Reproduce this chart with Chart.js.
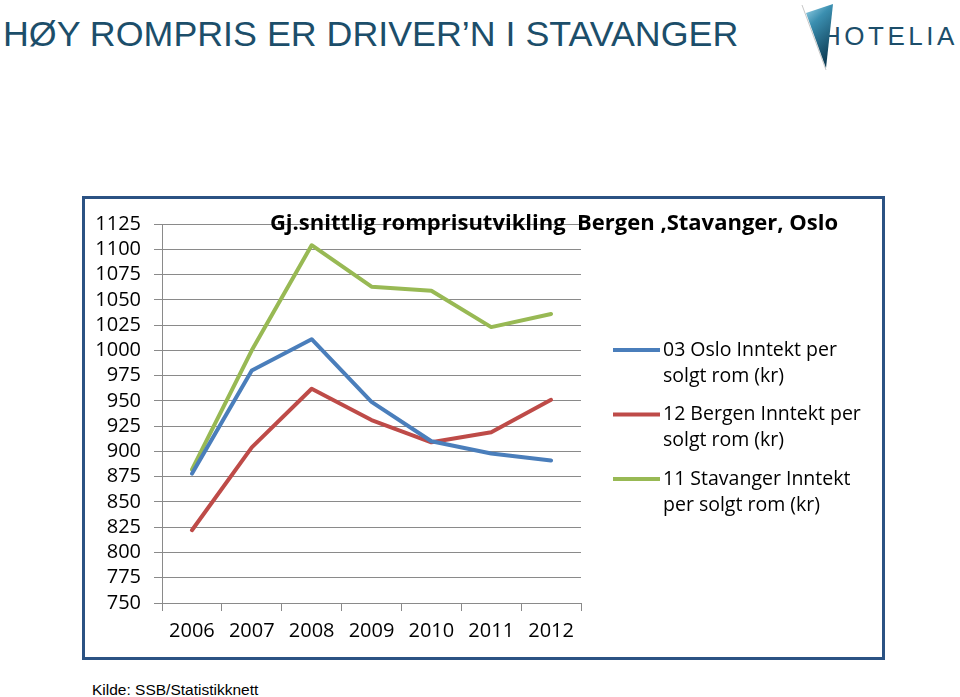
<!DOCTYPE html>
<html>
<head>
<meta charset="utf-8">
<script src="https://cdn.jsdelivr.net/npm/chart.js@4"></script>
<style>
  body { margin: 0; width: 960px; height: 697px; background: #fff; overflow: hidden; position: relative; font-family: "Liberation Sans", Arial, sans-serif; }
  #heading { position: absolute; left: 3px; top: 16px; font-size: 35.8px; line-height: 36px; color: #1c4e6a; white-space: nowrap; }
  #logo { position: absolute; left: 795px; top: 0; }
  #box { position: absolute; left: 82px; top: 196px; width: 803px; height: 464px; border: 3px solid #2b5283; box-sizing: border-box; }
  #box canvas { display: block; }
  #source { position: absolute; left: 92px; top: 682px; font-size: 15.5px; line-height: 15px; color: #000; white-space: nowrap; }
</style>
</head>
<body>
<div id="heading">HØY ROMPRIS ER DRIVER’N I STAVANGER</div>
<svg id="logo" width="165" height="75" viewBox="795 0 165 75">
  <defs>
    <linearGradient id="tri" x1="0" y1="0" x2="0.4" y2="1">
      <stop offset="0" stop-color="#9fd6ea"/>
      <stop offset="0.35" stop-color="#3b8fb0"/>
      <stop offset="1" stop-color="#0f3f58"/>
    </linearGradient>
  </defs>
  <text x="822" y="45" font-family="Liberation Sans, Arial" font-size="26" letter-spacing="3.5" fill="#1c4e6a">HOTELIA</text>
  <line x1="802" y1="5" x2="826" y2="70" stroke="#c8c8c8" stroke-width="1"/>
  <polygon points="806,13 833,4 826,68" fill="url(#tri)"/>
</svg>
<div id="box"><canvas id="chart" width="797" height="458"></canvas></div>
<div id="source">Kilde: SSB/Statistikknett</div>
<script>
const years = ['2006', '2007', '2008', '2009', '2010', '2011', '2012'];
const oslo = [878, 980, 1011, 949, 910, 898, 891];
const bergen = [822, 904, 962, 931, 909, 919, 951];
const stavanger = [882, 1000, 1104, 1063, 1059, 1023, 1036];
const seriesLines = [
  ['03 Oslo Inntekt per', 'solgt rom (kr)'],
  ['12 Bergen Inntekt per', 'solgt rom (kr)'],
  ['11 Stavanger Inntekt', 'per solgt rom (kr)'],
];
const chartTitle = 'Gj.snittlig romprisutvikling  Bergen ,Stavanger, Oslo';

const gridGray = '#8a8a8a';
const tickFont = { family: '"Open Sans", sans-serif', size: 20 };

// title sits over the plot, legend to the right; both drawn by hand
const overlay = {
  id: 'overlay',
  afterDraw(chart) {
    const ctx = chart.ctx;
    ctx.save();
    ctx.fillStyle = '#000';
    ctx.font = 'bold 22px "Open Sans", sans-serif';
    ctx.textAlign = 'center';
    ctx.textBaseline = 'middle';
    ctx.fillText(chartTitle, 469, 25);

    ctx.font = '19.5px "Open Sans", sans-serif';
    ctx.textAlign = 'left';
    chart.data.datasets.forEach((ds, i) => {
      const y = 151 + i * 64.5;
      ctx.strokeStyle = ds.borderColor;
      ctx.lineWidth = 4;
      ctx.beginPath();
      ctx.moveTo(528, y);
      ctx.lineTo(575, y);
      ctx.stroke();
      seriesLines[i].forEach((t, j) => ctx.fillText(t, 578, y + j * 26));
    });
    ctx.restore();
  }
};

const mk = (idx, data, color) => ({
  label: seriesLines[idx].join(' '),
  data: data,
  borderColor: color,
  backgroundColor: color,
  borderWidth: 4,
  pointRadius: 0,
  tension: 0,
  borderJoinStyle: 'round',
  borderCapStyle: 'round',
});

new Chart(document.getElementById('chart'), {
  type: 'line',
  data: {
    labels: years,
    datasets: [
      mk(0, oslo, '#4a7ebb'),
      mk(1, bergen, '#be4b48'),
      mk(2, stavanger, '#98b954'),
    ]
  },
  options: {
    responsive: false,
    animation: false,
    layout: { padding: { left: 0, top: 21.5, right: 301, bottom: 0 } },
    plugins: { legend: { display: false }, title: { display: false }, tooltip: { enabled: false } },
    scales: {
      x: {
        offset: true,
        afterFit(s) { s.height = 54; },
        grid: { offset: true, drawOnChartArea: false, drawTicks: true, tickLength: 8, color: gridGray },
        border: { color: gridGray },
        ticks: { color: '#000', font: tickFont, padding: 8, maxRotation: 0, autoSkip: false }
      },
      y: {
        min: 750,
        max: 1125,
        afterFit(s) { s.width = 77; },
        grid: { color: gridGray, tickLength: 8 },
        border: { color: gridGray },
        ticks: { stepSize: 25, autoSkip: false, color: '#000', font: tickFont, padding: 13, callback: v => String(v) }
      }
    }
  },
  plugins: [overlay]
});
</script>
</body>
</html>
